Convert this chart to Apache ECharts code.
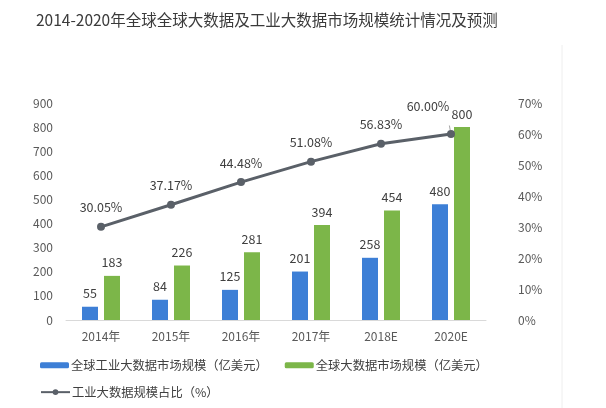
<!DOCTYPE html>
<html><head><meta charset="utf-8">
<script src="https://cdn.jsdelivr.net/npm/echarts@6/dist/echarts.min.js"></script>
<style>html,body{margin:0;padding:0;background:#fff}#c{width:606px;height:408px}</style>
</head><body><div id="c"></div>
<script>
const categories = ['2014年','2015年','2016年','2017年','2018E','2020E'];
const industrialSize = [55,84,125,201,258,480];
const globalSize = [183,226,281,394,454,800];
const industrialShare = [30.05,37.17,44.48,51.08,56.83,60.00];
const leftTicks = {min:0,max:900,interval:100};
const rightTicks = {min:0,max:70,interval:10};

const font = '"Microsoft YaHei","Noto Sans CJK SC",sans-serif';
const chart = echarts.init(document.getElementById('c'));
chart.setOption({
  backgroundColor:'#fff',
  animation:false,
  textStyle:{fontFamily:font},
  title:{text:'2014-2020年全球全球大数据及工业大数据市场规模统计情况及预测',left:31,top:7,
    textStyle:{fontSize:15.5,fontWeight:'normal',color:'#3a3a3a',fontFamily:font}},
  graphic:[{type:'line',shape:{x1:562,y1:45,x2:562,y2:408},style:{stroke:'#eeeeee',lineWidth:1}}],
  grid:{left:66,right:120,top:103,bottom:88},
  legend:[
    {data:['全球工业大数据市场规模（亿美元）','全球大数据市场规模（亿美元）'],left:35,top:354,itemWidth:29,itemHeight:6,itemGap:17,
     textStyle:{fontSize:12.3,color:'#404040',padding:[0,0,0,-3]}},
    {data:['工业大数据规模占比（%）'],left:35,top:381,itemWidth:29,itemHeight:7,
     textStyle:{fontSize:12.3,color:'#404040',padding:[0,0,0,-3]}}
  ],
  xAxis:{type:'category',data:categories,axisTick:{show:false},
    axisLine:{lineStyle:{color:'#d9d9d9'}},
    axisLabel:{color:'#595959',fontSize:12,margin:10}},
  yAxis:[
    {type:'value',min:leftTicks.min,max:leftTicks.max,interval:leftTicks.interval,splitLine:{show:false},
     axisLabel:{color:'#595959',fontSize:12,margin:13}},
    {type:'value',min:rightTicks.min,max:rightTicks.max,interval:rightTicks.interval,splitLine:{show:false},
     axisLabel:{color:'#595959',fontSize:12,margin:32,formatter:'{value}%'}}
  ],
  series:[
    {name:'全球工业大数据市场规模（亿美元）',type:'bar',data:industrialSize,barWidth:16,barGap:'37.5%',
     itemStyle:{color:'#3d7fd6'},
     label:{show:true,position:'top',distance:7,color:'#404040',fontSize:12.5}},
    {name:'全球大数据市场规模（亿美元）',type:'bar',data:globalSize,barWidth:16,
     itemStyle:{color:'#7cb649'},
     label:{show:true,position:'top',distance:7,color:'#404040',fontSize:12.5}},
    {name:'工业大数据规模占比（%）',type:'line',yAxisIndex:1,
     data:industrialShare.map((v,i)=> i===industrialShare.length-1 ? {value:v,label:{offset:[-23,-8]},labelLine:{show:true,lineStyle:{color:'#a6a6a6',width:1}}} : v),
     symbol:'circle',symbolSize:8,
     lineStyle:{color:'#5a6068',width:3},itemStyle:{color:'#5a6068'},
     label:{show:true,position:'top',distance:9,color:'#404040',fontSize:12.5,formatter:p=>p.value.toFixed(2)+'%'}}
  ]
});
</script></body></html>
